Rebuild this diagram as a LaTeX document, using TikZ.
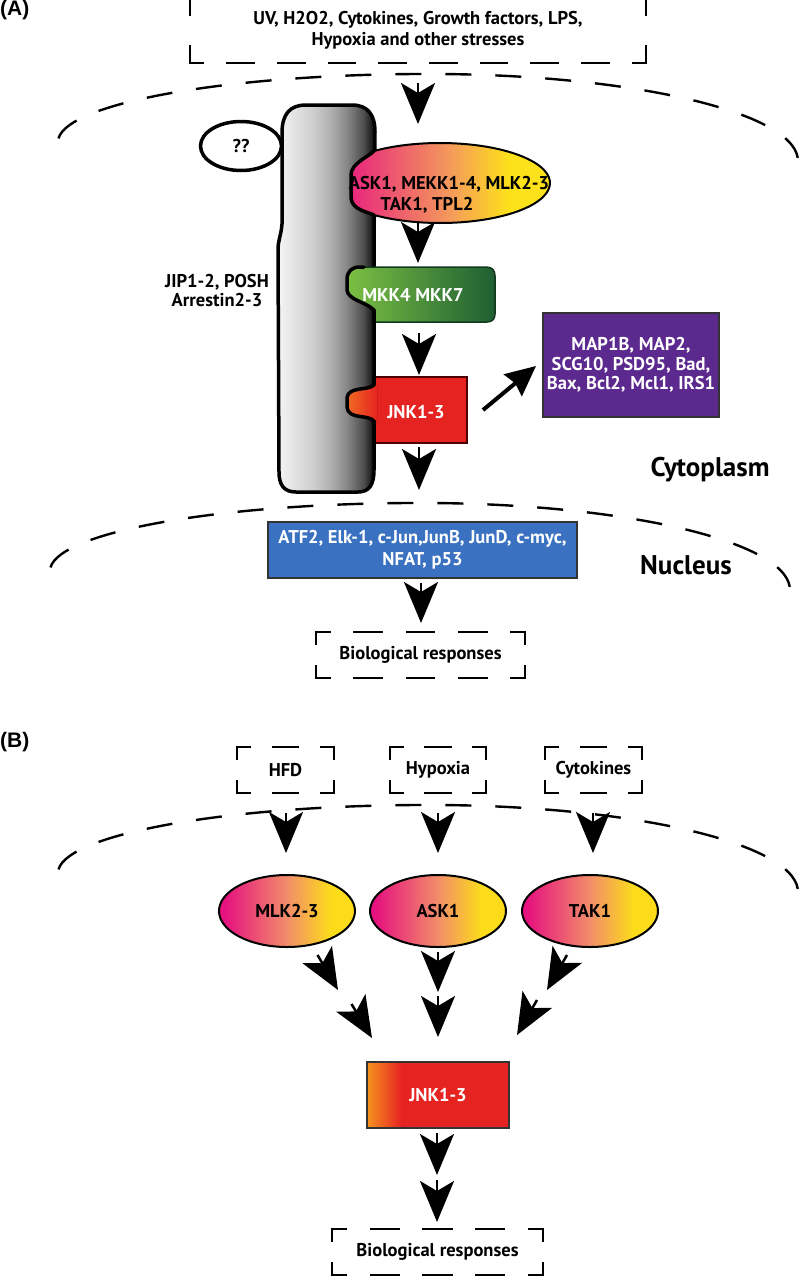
\documentclass[tikz,border=0pt]{standalone}
\usepackage{fontspec}
\setmainfont{PT Sans}
\newfontfamily\labfont{Liberation Sans}
\usetikzlibrary{arrows.meta,shapes.geometric,calc}

\definecolor{askL}{HTML}{E8267D}
\definecolor{askM}{HTML}{F4995C}
\definecolor{askR}{HTML}{FDE11A}
\definecolor{ellL}{HTML}{E5127F}
\definecolor{ellM}{HTML}{F28D6A}
\definecolor{ellR}{HTML}{FCDC1A}
\definecolor{mkkL}{HTML}{7BC043}
\definecolor{mkkR}{HTML}{1E5E33}
\definecolor{jnkR}{HTML}{E52421}
\definecolor{jnkO}{HTML}{F26A24}
\definecolor{jnkBO}{HTML}{F5921E}
\definecolor{atfB}{HTML}{3A71C1}
\definecolor{mapP}{HTML}{5C2A8F}

\pgfdeclarehorizontalshading{scafsh}{100bp}{color(0bp)=(black!4); color(25bp)=(black!4); color(43bp)=(black!19); color(52bp)=(black!31); color(60bp)=(black!46); color(69bp)=(black!69); color(73bp)=(black!88); color(75bp)=(black!92); color(100bp)=(black!92)}
\pgfdeclarehorizontalshading{asksh}{100bp}{color(0bp)=(askL); color(25bp)=(askL); color(48bp)=(askM); color(62bp)=(askR); color(100bp)=(askR)}
\pgfdeclarehorizontalshading{ellsh}{100bp}{color(0bp)=(ellL); color(27bp)=(ellL); color(50bp)=(ellM); color(66bp)=(ellR); color(100bp)=(ellR)}
\pgfdeclarehorizontalshading{jnkbsh}{100bp}{color(0bp)=(jnkBO); color(25bp)=(jnkBO); color(30bp)=(jnkBO!60!jnkR); color(37bp)=(jnkR); color(100bp)=(jnkR)}

\tikzset{
  txt/.style={font=\bfseries\fontsize{18.5}{20.5}\selectfont, align=center, inner sep=0pt},
  wtxt/.style={txt, text=white},
  bigtxt/.style={font=\bfseries\fontsize{27}{30}\selectfont, inner sep=0pt},
  panellab/.style={font=\labfont\bfseries\fontsize{21}{24}\selectfont, inner sep=0pt},
  dboxline/.style={line width=2.6pt, line cap=rect},
  membline/.style={line width=2.4pt, dash pattern=on 26pt off 24pt},
  knob/.style={line width=3.5pt, line cap=round, line join=round},
  bigarr/.style={line width=2.5pt, -{Stealth[length=41pt,width=34pt,inset=10pt]}},
  bell/.style={txt, ellipse, draw, line width=2pt, minimum width=136pt, minimum height=72pt, shading=ellsh},
  sqbox/.style={draw=black!80, line width=1.5pt},
}

\newcommand{\mydbox}[8]{%
  \pgfmathsetmacro{\dbph}{(#4-#2)/#6}%
  \pgfmathsetmacro{\dbpv}{(#5-#3)/#7}%
  \pgfmathsetmacro{\dbdh}{0.52*\dbph}\pgfmathsetmacro{\dbgh}{\dbph-\dbdh}\pgfmathsetmacro{\dbsh}{\dbdh/2}%
  \pgfmathsetmacro{\dbdv}{0.52*\dbpv}\pgfmathsetmacro{\dbgv}{\dbpv-\dbdv}\pgfmathsetmacro{\dbsv}{\dbdv/2}%
  \pgfmathsetmacro{\dbw}{#4-#2}\pgfmathsetmacro{\dbh}{#5-#3}%
  \draw[dboxline, dash pattern=on \dbdh pt off \dbgh pt, dash phase=\dbsh pt] (#2,#3) -- (#4,#3) (#2,#5) -- (#4,#5);%
  \draw[dboxline, dash pattern=on \dbdv pt off \dbgv pt, dash phase=\dbsv pt] (#2,#3) -- (#2,#5) (#4,#3) -- (#4,#5);%
  \node[txt, minimum width=\dbw pt, minimum height=\dbh pt] (#1) at ({(#2+#4)/2},{(#3+#5)/2}) {#8};%
}
\newcommand{\membrane}[2]{%
  \draw[membline] ({#1-369.5},{#2+64.4}) arc[start angle=177, end angle=90, x radius=370pt, y radius=68pt] arc[start angle=90, end angle=2, x radius=370pt, y radius=87pt];%
}

\begin{document}
\begin{tikzpicture}[x=1pt,y=-1pt]
\useasboundingbox (0,0) rectangle (800,1283);
\fill[white] (0,0) rectangle (800,1283);

% ================= Panel A =================
\node[panellab, anchor=west] (labA) at (0,10) {(A)};
\mydbox{top}{190}{-2}{646}{63}{9}{1}{UV, H2O2, Cytokines, Growth factors, LPS,\\Hypoxia and other stresses}
\membrane{428}{74}
\membrane{420}{503}

% scaffold
\draw[shading=scafsh, line width=3.5pt, line join=round]
  (282,133) .. controls (282,114) and (290,105) .. (306,105) -- (352,105)
  .. controls (368,105) and (375,115) .. (375,132) -- (374,230)
  -- (374,470) .. controls (374,485) and (369,492) .. (358,492) -- (296,492)
  .. controls (284,492) and (279,485) .. (279,472) -- (278,250)
  .. controls (278,240) and (281,236) .. (282,224) -- cycle;
\node[txt, font=\bfseries\fontsize{18.5}{19}\selectfont] (jip) at (217,291) {JIP1-2, POSH\\Arrestin2-3};
\node[txt, ellipse, draw, line width=3.5pt, minimum width=81pt, minimum height=49pt, fill=white] (qq) at (241,146) {??};

% ASK protein
\path[shading=asksh] (374,151) arc[start angle=126.87, end angle=-126.87, x radius=110pt, y radius=40pt]
  .. controls (368,212) and (352,210) .. (351,198) -- (351,174) .. controls (352,163) and (368,157) .. (374,151) -- cycle;
\draw[line width=2pt] (374,151) arc[start angle=126.87, end angle=-126.87, x radius=110pt, y radius=40pt];
\draw[knob] (374,215) .. controls (368,212) and (352,210) .. (351,198) -- (351,174) .. controls (352,163) and (368,157) .. (374,151);
\node[txt] (ask) at (449,195) {ASK1, MEKK1-4, MLK2-3\\TAK1, TPL2\hspace*{44pt}};

% MKK protein
\path[left color=mkkL, right color=mkkR] (374,322) -- (487,322) .. controls (492,322) and (495,319) .. (495,314) -- (495,276)
  .. controls (495,270) and (492,267) .. (486,267) -- (360,267) .. controls (352,267) and (347,271) .. (347,280) -- (347,290)
  .. controls (348,300) and (366,302) .. (374,310) -- cycle;
\draw[line width=1.5pt, mkkR!60!black] (374,322) -- (487,322) .. controls (492,322) and (495,319) .. (495,314) -- (495,276)
  .. controls (495,270) and (492,267) .. (486,267) -- (364,267);
\draw[knob] (364,267) -- (360,267) .. controls (352,267) and (347,271) .. (347,280) -- (347,290)
  .. controls (348,300) and (366,302) .. (374,310) -- (374,322);
\node[wtxt] (mkk) at (413,295) {MKK4 MKK7};

% JNK protein (A)
\fill[jnkR] (374,377) -- (467,377) -- (467,443) -- (374,443) -- (374,421) .. controls (368,414) and (348,420) .. (347,407)
  -- (347,398) .. controls (348,386) and (368,391) .. (374,385) -- cycle;
\fill[left color=jnkO, right color=jnkR] (377,385) -- (374,385) .. controls (368,391) and (348,386) .. (347,398) -- (347,407)
  .. controls (348,420) and (368,414) .. (374,421) -- (377,421) -- cycle;
\draw[line width=1.5pt, black!70!red] (374,377) -- (467,377) -- (467,443) -- (374,443);
\draw[knob] (374,443) -- (374,421) .. controls (368,414) and (348,420) .. (347,407) -- (347,398)
  .. controls (348,386) and (368,391) .. (374,385) -- (374,377);
\node[wtxt] (jnkA) at (416,412) {JNK1-3};

% substrates
\node[wtxt, sqbox, fill=mapP, minimum width=176pt, minimum height=104pt, font=\bfseries\fontsize{18.5}{19.5}\selectfont] (map) at (631,365) {MAP1B, MAP2,\\SCG10, PSD95, Bad,\\Bax, Bcl2, Mcl1, IRS1};
\node[wtxt, sqbox, fill=atfB, minimum width=309pt, minimum height=56pt, font=\bfseries\fontsize{18.5}{22}\selectfont] (atf) at (422.5,550) {ATF2, Elk-1, c-Jun,JunB, JunD, c-myc,\\NFAT, p53};
\mydbox{bioA}{316}{632}{525}{678}{4}{1}{Biological responses}

\node[bigtxt] (cyto) at (710,470) {Cytoplasm};
\node[bigtxt] (nuc) at (686,565) {Nucleus};

% arrows (A)
\coordinate (a1s) at (418,83);  \coordinate (a1e) at (418,124);
\coordinate (a2s) at (418,222); \coordinate (a2e) at (418,263);
\coordinate (a3s) at (419,333); \coordinate (a3e) at (419,375);
\coordinate (a4s) at (419,447); \coordinate (a4e) at (419,490);
\coordinate (a5s) at (421,583); \coordinate (a5e) at (421,623);
\coordinate (m1s) at (483,410); \coordinate (m1e) at (536,366);
\draw[bigarr] (a1s) -- (a1e);
\draw[bigarr] (a2s) -- (a2e);
\draw[bigarr] (a3s) -- (a3e);
\draw[bigarr] (a4s) -- (a4e);
\draw[bigarr] (a5s) -- (a5e);
\draw[line width=4pt, -{Stealth[length=30pt,width=28pt,inset=3pt]}] (m1s) -- (m1e);

% ================= Panel B =================
\node[panellab, anchor=west] (labB) at (0,742) {(B)};
\mydbox{hfd}{237}{747}{334}{793}{2}{1}{HFD}
\mydbox{hyp}{390}{747}{486}{793}{2}{1}{Hypoxia}
\mydbox{cyt}{545}{747}{642}{793}{2}{1}{Cytokines}
\membrane{428}{805}

\node[bell] (mlk) at (287,911) {MLK2-3};
\node[bell] (askB) at (438,911) {ASK1};
\node[bell] (tak) at (590,911) {TAK1};

\node[wtxt, sqbox, shading=jnkbsh, minimum width=142pt, minimum height=66pt] (jnkB) at (438,1095) {JNK1-3};
\mydbox{bioB}{332}{1229}{543}{1275}{4}{1}{Biological responses}

\coordinate (b1s) at (286,813); \coordinate (b1e) at (286,853);
\coordinate (b2s) at (438,813); \coordinate (b2e) at (438,853);
\coordinate (b3s) at (593,813); \coordinate (b3e) at (593,853);
\draw[bigarr] (b1s) -- (b1e);
\draw[bigarr] (b2s) -- (b2e);
\draw[bigarr] (b3s) -- (b3e);

% MLK -> JNK (two heads)
\coordinate (l1s) at (317.5,955); \coordinate (l1e) at (338,990);
\coordinate (l2s) at (351.5,1004); \coordinate (l2e) at (372,1038);
% ASK -> JNK
\coordinate (c1s) at (438,952); \coordinate (c1e) at (438,992);
\coordinate (c2s) at (438,996); \coordinate (c2e) at (438,1037);
% TAK -> JNK
\coordinate (r1s) at (567,955); \coordinate (r1e) at (547,990);
\coordinate (r2s) at (537,1000); \coordinate (r2e) at (517,1035);
% JNK -> responses
\coordinate (d1s) at (437,1133); \coordinate (d1e) at (437,1175);
\coordinate (d2s) at (437,1180); \coordinate (d2e) at (437,1222);
\draw[bigarr] (l1s) -- (l1e);
\draw[bigarr] (l2s) -- (l2e);
\draw[bigarr] (c1s) -- (c1e);
\draw[bigarr] (c2s) -- (c2e);
\draw[bigarr] (r1s) -- (r1e);
\draw[bigarr] (r2s) -- (r2e);
\draw[bigarr] (d1s) -- (d1e);
\draw[bigarr] (d2s) -- (d2e);
\end{tikzpicture}
\end{document}
